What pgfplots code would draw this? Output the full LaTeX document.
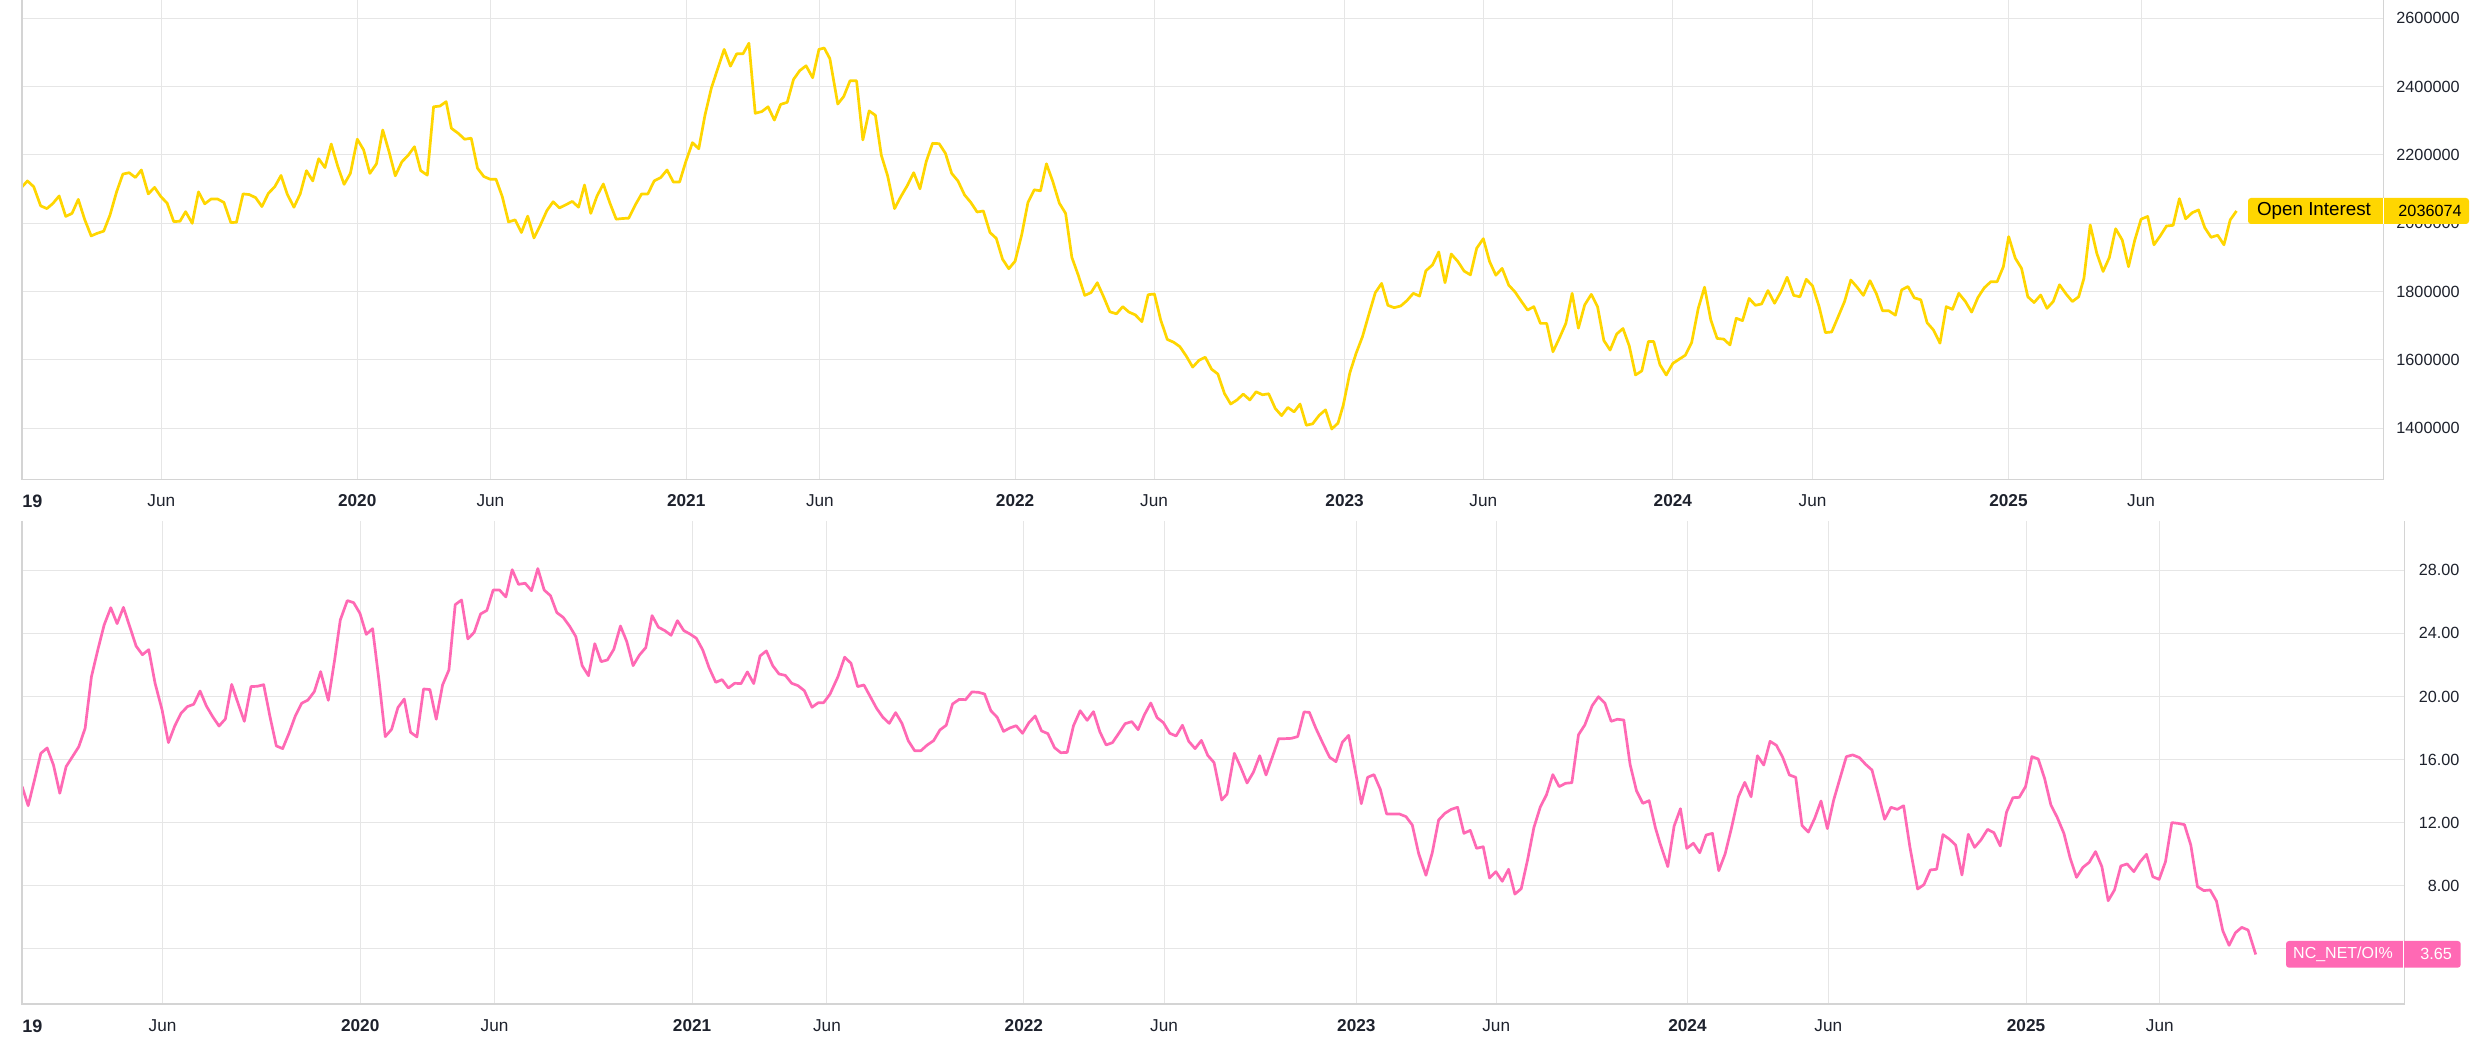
\documentclass[border=0pt]{standalone}
\usepackage{fontspec}
\setmainfont{Liberation Sans}
\usepackage{pgfplots}
\pgfplotsset{compat=1.18}
\usepackage{pgfplotstable}
\definecolor{oiyellow}{HTML}{FFD600}
\definecolor{ncpink}{HTML}{FF69B4}
\definecolor{gridc}{HTML}{E6E6E6}
\definecolor{borderc}{HTML}{D4D4D4}
\definecolor{txt}{HTML}{1E222D}

\pgfplotstableread{
x y
2018.986 2107000
2019.002 2124000
2019.021 2107000
2019.042 2051000
2019.061 2043000
2019.079 2058000
2019.098 2080000
2019.118 2020000
2019.137 2029000
2019.156 2070000
2019.175 2012000
2019.195 1963000
2019.214 1971000
2019.233 1977000
2019.252 2024000
2019.272 2092000
2019.291 2144000
2019.310 2148000
2019.329 2134000
2019.347 2156000
2019.368 2086000
2019.387 2105000
2019.406 2078000
2019.425 2059000
2019.445 2005000
2019.464 2006000
2019.481 2034000
2019.501 2000000
2019.520 2092000
2019.539 2057000
2019.558 2071000
2019.578 2071000
2019.597 2061000
2019.618 2002000
2019.635 2003000
2019.655 2086000
2019.674 2084000
2019.693 2075000
2019.712 2049000
2019.732 2088000
2019.751 2107000
2019.770 2140000
2019.789 2085000
2019.809 2047000
2019.828 2086000
2019.847 2154000
2019.866 2124000
2019.884 2189000
2019.903 2163000
2019.922 2232000
2019.942 2166000
2019.961 2114000
2019.980 2146000
2020.001 2246000
2020.020 2215000
2020.039 2146000
2020.059 2174000
2020.078 2273000
2020.097 2210000
2020.116 2139000
2020.136 2180000
2020.155 2199000
2020.174 2224000
2020.193 2154000
2020.213 2141000
2020.232 2341000
2020.251 2343000
2020.270 2356000
2020.286 2278000
2020.307 2263000
2020.326 2246000
2020.346 2249000
2020.365 2161000
2020.384 2137000
2020.403 2129000
2020.421 2129000
2020.440 2078000
2020.459 2004000
2020.479 2010000
2020.498 1973000
2020.517 2021000
2020.536 1957000
2020.555 1994000
2020.575 2037000
2020.594 2063000
2020.613 2045000
2020.632 2054000
2020.652 2064000
2020.671 2047000
2020.689 2112000
2020.708 2029000
2020.727 2080000
2020.746 2115000
2020.766 2059000
2020.785 2012000
2020.804 2014000
2020.823 2015000
2020.843 2054000
2020.862 2086000
2020.881 2086000
2020.900 2124000
2020.920 2134000
2020.939 2156000
2020.958 2121000
2020.977 2121000
2020.996 2181000
2021.016 2236000
2021.035 2218000
2021.054 2317000
2021.073 2395000
2021.093 2454000
2021.112 2509000
2021.131 2460000
2021.150 2496000
2021.169 2496000
2021.187 2527000
2021.206 2322000
2021.226 2327000
2021.245 2341000
2021.264 2302000
2021.283 2348000
2021.303 2354000
2021.322 2421000
2021.341 2447000
2021.360 2461000
2021.380 2426000
2021.399 2509000
2021.415 2513000
2021.432 2482000
2021.456 2349000
2021.474 2371000
2021.493 2417000
2021.513 2417000
2021.532 2244000
2021.551 2329000
2021.570 2316000
2021.588 2199000
2021.607 2139000
2021.628 2043000
2021.647 2078000
2021.667 2111000
2021.686 2148000
2021.705 2101000
2021.724 2181000
2021.743 2234000
2021.763 2233000
2021.782 2205000
2021.801 2146000
2021.820 2124000
2021.840 2083000
2021.859 2061000
2021.878 2033000
2021.897 2036000
2021.917 1973000
2021.936 1956000
2021.955 1895000
2021.974 1867000
2021.993 1889000
2022.013 1966000
2022.032 2061000
2022.051 2098000
2022.070 2095000
2022.088 2174000
2022.107 2123000
2022.127 2059000
2022.146 2029000
2022.165 1900000
2022.184 1849000
2022.204 1789000
2022.223 1797000
2022.242 1826000
2022.261 1785000
2022.280 1741000
2022.300 1735000
2022.319 1756000
2022.338 1740000
2022.357 1732000
2022.377 1712000
2022.396 1791000
2022.415 1793000
2022.434 1717000
2022.454 1660000
2022.473 1652000
2022.492 1639000
2022.511 1612000
2022.531 1579000
2022.550 1599000
2022.569 1608000
2022.588 1573000
2022.607 1559000
2022.627 1502000
2022.646 1471000
2022.665 1483000
2022.684 1500000
2022.704 1483000
2022.723 1507000
2022.742 1498000
2022.761 1501000
2022.781 1458000
2022.800 1437000
2022.819 1461000
2022.838 1448000
2022.856 1471000
2022.875 1409000
2022.894 1413000
2022.914 1438000
2022.933 1454000
2022.952 1398000
2022.971 1415000
2022.987 1468000
2023.007 1563000
2023.026 1620000
2023.045 1668000
2023.064 1732000
2023.084 1797000
2023.103 1824000
2023.122 1760000
2023.141 1753000
2023.161 1758000
2023.180 1774000
2023.199 1795000
2023.218 1787000
2023.237 1861000
2023.257 1878000
2023.276 1916000
2023.295 1826000
2023.314 1910000
2023.334 1888000
2023.353 1860000
2023.372 1849000
2023.391 1927000
2023.411 1955000
2023.430 1888000
2023.449 1848000
2023.468 1868000
2023.488 1819000
2023.507 1799000
2023.526 1772000
2023.545 1746000
2023.564 1756000
2023.584 1707000
2023.603 1707000
2023.622 1624000
2023.641 1663000
2023.661 1707000
2023.680 1795000
2023.699 1693000
2023.718 1761000
2023.738 1792000
2023.757 1756000
2023.776 1657000
2023.795 1629000
2023.815 1676000
2023.834 1692000
2023.853 1641000
2023.872 1556000
2023.891 1568000
2023.911 1654000
2023.927 1654000
2023.946 1586000
2023.965 1556000
2023.985 1590000
2024.004 1602000
2024.023 1614000
2024.042 1651000
2024.062 1751000
2024.081 1813000
2024.100 1717000
2024.119 1663000
2024.139 1661000
2024.158 1644000
2024.177 1722000
2024.196 1715000
2024.216 1780000
2024.235 1760000
2024.254 1764000
2024.273 1803000
2024.293 1766000
2024.312 1799000
2024.331 1842000
2024.351 1789000
2024.370 1785000
2024.389 1836000
2024.408 1817000
2024.428 1756000
2024.447 1680000
2024.466 1682000
2024.485 1725000
2024.505 1771000
2024.524 1834000
2024.543 1813000
2024.562 1789000
2024.582 1832000
2024.601 1795000
2024.620 1744000
2024.639 1744000
2024.659 1731000
2024.678 1805000
2024.697 1815000
2024.716 1782000
2024.736 1776000
2024.755 1709000
2024.774 1688000
2024.794 1649000
2024.813 1756000
2024.832 1748000
2024.851 1795000
2024.871 1771000
2024.890 1740000
2024.909 1783000
2024.928 1811000
2024.948 1829000
2024.967 1829000
2024.986 1873000
2025.002 1961000
2025.022 1898000
2025.041 1868000
2025.060 1785000
2025.079 1768000
2025.099 1790000
2025.118 1751000
2025.137 1771000
2025.156 1820000
2025.176 1793000
2025.195 1771000
2025.214 1785000
2025.230 1839000
2025.249 1995000
2025.269 1912000
2025.288 1859000
2025.307 1900000
2025.326 1984000
2025.346 1951000
2025.365 1873000
2025.384 1951000
2025.403 2012000
2025.423 2020000
2025.442 1937000
2025.461 1963000
2025.480 1992000
2025.500 1994000
2025.519 2072000
2025.538 2013000
2025.558 2031000
2025.577 2039000
2025.596 1987000
2025.615 1959000
2025.635 1965000
2025.654 1937000
2025.673 2010000
2025.692 2036074
}\oitable

\pgfplotstableread{
x y
2018.986 14.29
2019.004 13.08
2019.023 14.71
2019.042 16.40
2019.061 16.74
2019.080 15.66
2019.099 13.87
2019.118 15.56
2019.137 16.19
2019.156 16.82
2019.175 17.99
2019.194 21.26
2019.213 22.95
2019.232 24.53
2019.252 25.63
2019.271 24.62
2019.290 25.65
2019.309 24.43
2019.328 23.20
2019.347 22.65
2019.366 22.97
2019.385 20.84
2019.406 19.15
2019.425 17.08
2019.444 18.13
2019.463 18.94
2019.482 19.36
2019.501 19.51
2019.520 20.35
2019.539 19.40
2019.558 18.72
2019.577 18.13
2019.596 18.58
2019.615 20.77
2019.634 19.57
2019.653 18.43
2019.673 20.63
2019.692 20.65
2019.711 20.75
2019.730 18.72
2019.749 16.87
2019.768 16.70
2019.787 17.67
2019.806 18.77
2019.825 19.57
2019.844 19.78
2019.863 20.31
2019.882 21.58
2019.905 19.76
2019.924 22.32
2019.941 24.85
2019.962 26.08
2019.981 25.95
2020.000 25.27
2020.019 23.94
2020.038 24.30
2020.057 21.05
2020.076 17.46
2020.095 17.92
2020.114 19.30
2020.133 19.84
2020.152 17.73
2020.171 17.44
2020.191 20.48
2020.210 20.44
2020.229 18.56
2020.248 20.73
2020.267 21.68
2020.286 25.82
2020.305 26.12
2020.324 23.65
2020.343 24.07
2020.362 25.23
2020.381 25.46
2020.400 26.75
2020.419 26.75
2020.438 26.31
2020.457 28.04
2020.476 27.11
2020.496 27.18
2020.515 26.71
2020.534 28.11
2020.553 26.75
2020.572 26.39
2020.591 25.32
2020.610 25.02
2020.629 24.47
2020.648 23.80
2020.667 21.96
2020.686 21.32
2020.705 23.35
2020.724 22.21
2020.743 22.32
2020.762 22.99
2020.782 24.47
2020.801 23.48
2020.820 21.96
2020.839 22.63
2020.858 23.10
2020.877 25.13
2020.896 24.39
2020.915 24.18
2020.934 23.88
2020.953 24.81
2020.972 24.18
2020.991 23.96
2021.010 23.69
2021.029 22.95
2021.048 21.83
2021.068 20.90
2021.087 21.07
2021.106 20.54
2021.125 20.84
2021.144 20.82
2021.163 21.56
2021.182 20.82
2021.201 22.57
2021.220 22.89
2021.239 21.96
2021.258 21.43
2021.277 21.34
2021.296 20.84
2021.315 20.69
2021.334 20.37
2021.357 19.32
2021.376 19.61
2021.392 19.61
2021.411 20.15
2021.435 21.26
2021.455 22.49
2021.474 22.11
2021.494 20.63
2021.513 20.73
2021.532 19.99
2021.551 19.25
2021.570 18.68
2021.589 18.30
2021.608 18.98
2021.627 18.30
2021.646 17.20
2021.665 16.57
2021.684 16.57
2021.703 16.93
2021.722 17.20
2021.741 17.88
2021.760 18.18
2021.779 19.53
2021.799 19.82
2021.818 19.80
2021.837 20.29
2021.856 20.27
2021.875 20.16
2021.894 19.10
2021.913 18.68
2021.932 17.79
2021.951 18.01
2021.970 18.15
2021.989 17.67
2022.008 18.34
2022.027 18.77
2022.046 17.82
2022.065 17.65
2022.085 16.76
2022.104 16.44
2022.123 16.46
2022.142 18.15
2022.162 19.10
2022.183 18.49
2022.202 19.04
2022.221 17.77
2022.240 16.93
2022.259 17.08
2022.278 17.67
2022.297 18.28
2022.317 18.41
2022.336 17.90
2022.355 18.85
2022.374 19.59
2022.393 18.66
2022.412 18.34
2022.431 17.67
2022.450 17.50
2022.469 18.18
2022.488 17.16
2022.507 16.70
2022.526 17.22
2022.545 16.27
2022.564 15.81
2022.587 13.44
2022.603 13.82
2022.625 16.40
2022.644 15.51
2022.663 14.52
2022.682 15.20
2022.701 16.25
2022.720 15.03
2022.739 16.17
2022.758 17.33
2022.777 17.33
2022.796 17.35
2022.815 17.46
2022.834 19.02
2022.850 19.00
2022.869 18.01
2022.892 16.97
2022.911 16.15
2022.930 15.87
2022.949 17.10
2022.968 17.54
2022.987 15.39
2023.006 13.21
2023.025 14.88
2023.044 15.05
2023.063 14.12
2023.082 12.56
2023.101 12.56
2023.120 12.56
2023.140 12.39
2023.159 11.86
2023.178 10.06
2023.200 8.67
2023.219 10.10
2023.238 12.17
2023.257 12.60
2023.276 12.85
2023.295 12.98
2023.314 11.33
2023.333 11.52
2023.352 10.38
2023.372 10.48
2023.391 8.50
2023.410 8.90
2023.429 8.29
2023.448 9.05
2023.467 7.48
2023.486 7.82
2023.505 9.64
2023.524 11.69
2023.543 12.98
2023.562 13.78
2023.581 15.05
2023.600 14.29
2023.619 14.50
2023.638 14.54
2023.658 17.58
2023.677 18.20
2023.699 19.42
2023.718 19.99
2023.737 19.59
2023.756 18.43
2023.775 18.56
2023.794 18.51
2023.813 15.68
2023.832 14.03
2023.851 13.23
2023.870 13.40
2023.889 11.67
2023.902 10.75
2023.926 9.22
2023.945 11.79
2023.964 12.89
2023.983 10.38
2024.003 10.70
2024.022 10.10
2024.041 11.22
2024.060 11.33
2024.079 8.96
2024.098 10.02
2024.117 11.65
2024.138 13.65
2024.157 14.56
2024.176 13.65
2024.195 16.25
2024.214 15.66
2024.233 17.16
2024.252 16.91
2024.271 16.15
2024.291 15.03
2024.310 14.88
2024.329 11.82
2024.348 11.41
2024.367 12.28
2024.386 13.38
2024.405 11.63
2024.424 13.44
2024.443 14.82
2024.462 16.19
2024.481 16.30
2024.501 16.13
2024.520 15.70
2024.539 15.34
2024.558 13.80
2024.577 12.22
2024.596 12.98
2024.615 12.85
2024.634 13.08
2024.653 10.44
2024.676 7.80
2024.695 8.08
2024.714 9.01
2024.733 9.05
2024.752 11.25
2024.771 10.97
2024.790 10.59
2024.809 8.69
2024.828 11.27
2024.847 10.44
2024.866 10.91
2024.886 11.58
2024.905 11.37
2024.924 10.53
2024.943 12.68
2024.962 13.59
2024.981 13.61
2025.000 14.29
2025.019 16.19
2025.038 16.04
2025.057 14.82
2025.076 13.13
2025.095 12.34
2025.115 11.33
2025.134 9.75
2025.153 8.54
2025.172 9.17
2025.191 9.49
2025.210 10.17
2025.229 9.22
2025.248 7.06
2025.267 7.74
2025.286 9.26
2025.305 9.39
2025.325 8.90
2025.344 9.53
2025.363 10.00
2025.382 8.58
2025.401 8.41
2025.420 9.53
2025.439 12.01
2025.458 11.96
2025.477 11.88
2025.496 10.59
2025.516 7.95
2025.535 7.70
2025.554 7.74
2025.573 7.04
2025.592 5.16
2025.611 4.23
2025.630 5.03
2025.649 5.37
2025.668 5.20
2025.691 3.65
}\nctable

\pgfplotsset{
  tvstyle/.style={
    scale only axis,
    xmin=2018.9855, xmax=2026.137,
    axis line style={draw=none},
    tick style={draw=none},
    xmajorgrids, ymajorgrids,
    grid style={gridc, line width=0.5pt},
    xtick={2019.4075,2020.0008,2020.404,2020.997,2021.402,2021.993,2022.414,2022.991,2023.411,2023.985,2024.408,2025.0015,2025.403},
    xticklabels={Jun,\textbf{2020},Jun,\textbf{2021},Jun,\textbf{2022},Jun,\textbf{2023},Jun,\textbf{2024},Jun,\textbf{2025},Jun},
    xticklabel style={anchor=center, inner sep=0pt, text=txt, font=\fontsize{8.6}{10}\selectfont},
    yticklabel pos=right,
    yticklabel style={anchor=east, inner sep=0pt, text=txt, font=\fontsize{8.1}{10}\selectfont},
  }
}

\begin{document}
\begin{tikzpicture}[x=1pt,y=1pt]
\path[use as bounding box] (0,0) rectangle (1245.5,521.5);
\fill[white] (0,0) rectangle (1245.5,521.5);

% ---- top panel: Open Interest ----
\begin{axis}[tvstyle,
  at={(11pt,281.75pt)}, anchor=south west,
  width=1180.75pt, height=239.75pt,
  ymin=1250140, ymax=2653560,
  ytick={1400000,1600000,1800000,2000000,2200000,2400000,2600000},
  yticklabels={1400000,1600000,1800000,2000000,2200000,2400000,2600000},
  yticklabel style={xshift=38.25pt},
  xticklabel style={yshift=-10.75pt},
]
\addplot[oiyellow, line width=1.35pt, line join=round] table[x=x,y=y] {\oitable};
\end{axis}
\draw[borderc, line width=0.6pt] (11,521.5) -- (11,281.75) -- (1191.75,281.75) -- (1191.75,521.5);
\node[anchor=west, inner sep=0pt, text=txt, font=\fontsize{9}{10}\selectfont\bfseries] at (11,271) {19};

% ---- bottom panel: NC_NET/OI% ----
\begin{axis}[tvstyle,
  at={(11pt,19.5pt)}, anchor=south west,
  width=1191.25pt, height=241.5pt,
  ymin=0.514, ymax=31.125,
  ytick={4,8,12,16,20,24,28},
  yticklabels={,8.00,12.00,16.00,20.00,24.00,28.00},
  yticklabel style={xshift=27.75pt},
  xticklabel style={yshift=-11pt},
]
\addplot[ncpink, line width=1.35pt, line join=round] table[x=x,y=y] {\nctable};
\end{axis}
\draw[borderc, line width=0.6pt] (11,261) -- (11,19.5) -- (1202.25,19.5) -- (1202.25,261);
\node[anchor=west, inner sep=0pt, text=txt, font=\fontsize{9}{10}\selectfont\bfseries] at (11,8.5) {19};

% ---- last-value labels ----
\fill[oiyellow, rounded corners=1.5pt] (1124,409.5) rectangle (1234.5,422.5);
\draw[white, line width=0.6pt] (1191.75,409.5) -- (1191.75,422.5);
\node[inner sep=0pt, text=black, font=\fontsize{9.4}{10}\selectfont] at (1157,416) {Open Interest};
\node[inner sep=0pt, text=black, font=\fontsize{8.1}{10}\selectfont] at (1215,416) {2036074};

\fill[ncpink, rounded corners=1.5pt] (1143,37.65) rectangle (1230.35,51);
\draw[white, line width=0.6pt] (1201.75,37.65) -- (1201.75,51);
\node[inner sep=0pt, text=white, font=\fontsize{8}{10}\selectfont] at (1171.5,44.3) {NC\_NET/OI\%};
\node[inner sep=0pt, text=white, font=\fontsize{8.1}{10}\selectfont] at (1218,44.3) {3.65};
\end{tikzpicture}
\end{document}
